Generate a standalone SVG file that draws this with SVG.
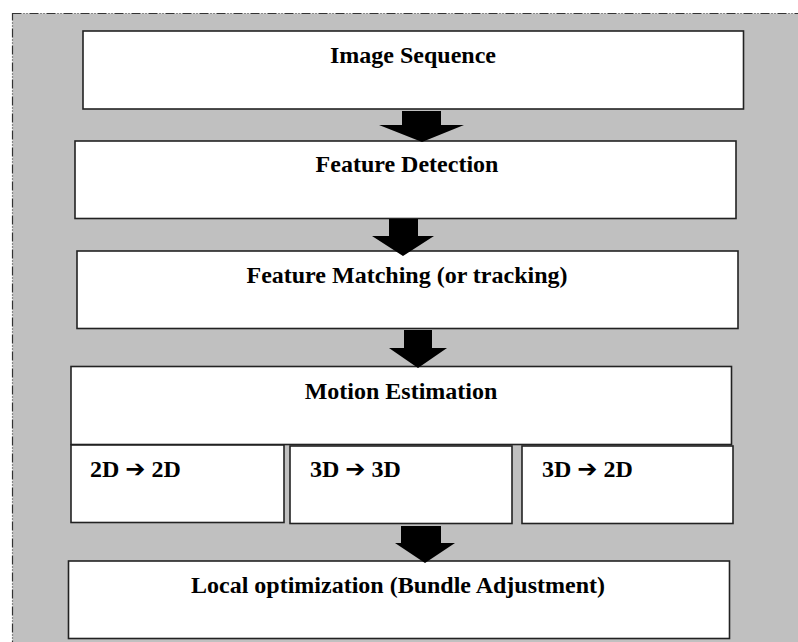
<svg xmlns="http://www.w3.org/2000/svg" width="798" height="642" viewBox="0 0 798 642">
<style>
.box{fill:#ffffff;stroke:#222222;stroke-width:1.6}
.lbl{font-family:"Liberation Serif","Times New Roman",serif;font-weight:bold;font-size:24px;fill:#000000}
.mid{text-anchor:middle}
.arr{fill:#000000}
.sym{font-family:"DejaVu Sans",sans-serif;font-size:24px;font-weight:bold}
</style>
<rect x="0" y="0" width="798" height="642" fill="#ffffff"/>
<rect x="12.5" y="13.5" width="800" height="640" fill="#c0c0c0" stroke="#333333" stroke-width="1.2" stroke-dasharray="9 2 1 2 1 2"/>
<g id="image-sequence">
<rect class="box" x="83" y="31" width="660.5" height="78"/>
<text class="lbl mid" x="413" y="63">Image Sequence</text>
</g>
<g id="feature-detection">
<rect class="box" x="75" y="141" width="661" height="77.5"/>
<text class="lbl mid" x="407" y="172">Feature Detection</text>
</g>
<g id="feature-matching">
<rect class="box" x="77" y="251" width="661" height="77.5"/>
<text class="lbl mid" x="407" y="283">Feature Matching (or tracking)</text>
</g>
<g id="motion-estimation">
<rect class="box" x="71" y="366.5" width="660.5" height="78"/>
<text class="lbl mid" x="401" y="399">Motion Estimation</text>
</g>
<g id="m-2d2d">
<rect class="box" x="71" y="445" width="213" height="77.5"/>
<text class="lbl" x="90" y="477">2D <tspan class="sym">➔</tspan> 2D</text>
</g>
<g id="m-3d3d">
<rect class="box" x="290" y="446" width="222" height="77.5"/>
<text class="lbl" x="310" y="477">3D <tspan class="sym">➔</tspan> 3D</text>
</g>
<g id="m-3d2d">
<rect class="box" x="522" y="446" width="211" height="77.5"/>
<text class="lbl" x="542" y="477">3D <tspan class="sym">➔</tspan> 2D</text>
</g>
<g id="local-optimization">
<rect class="box" x="68.5" y="561" width="661" height="77.5"/>
<text class="lbl mid" x="398" y="593">Local optimization (Bundle Adjustment)</text>
</g>
<g id="connectors">
<polygon class="arr" points="402,111 441,111 441,125 464,125 422,142 379,125 402,125"/>
<polygon class="arr" points="389,219 418,219 418,236 434,236 403,256 372,236 389,236"/>
<polygon class="arr" points="404,330 432,330 432,348 447,348 418,368 389,348 404,348"/>
<polygon class="arr" points="401,526 441,526 441,543 455,543 425,563 395,543 401,543"/>
</g>
</svg>
